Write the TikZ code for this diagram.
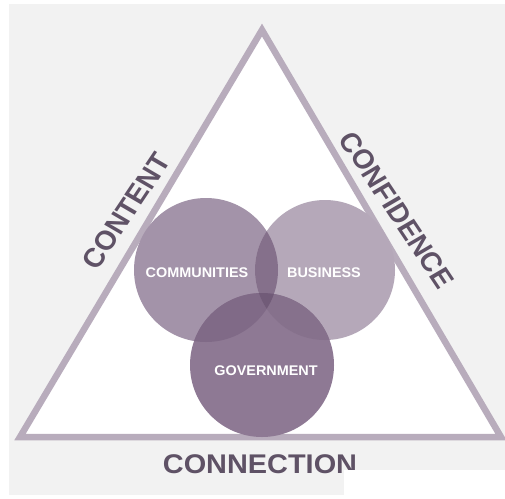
\documentclass[tikz,border=0pt]{standalone}
\usepackage{fontspec}
\setmainfont{Liberation Sans}
\begin{document}
\begin{tikzpicture}[x=1pt,y=-1pt,
  tri/.style={draw=triline,line width=6.5pt,fill=white,line join=miter},
  side/.style={font=\bfseries\fontsize{27}{27}\selectfont,text=labelc,inner sep=0pt,xscale=1.07},
  inlabel/.style={font=\bfseries\fontsize{14}{14}\selectfont,text=white,inner sep=0pt,xscale=1.03}]
\definecolor{bg}{HTML}{F2F2F2}
\definecolor{triline}{HTML}{B8ACBC}
\definecolor{labelc}{HTML}{5F5266}
\definecolor{comm}{HTML}{A393A9}
\definecolor{bus}{HTML}{B5A8B9}
\definecolor{gov}{HTML}{8E7994}
\definecolor{cb}{HTML}{85708B}
\definecolor{cg}{HTML}{806A87}
\definecolor{bg2}{HTML}{86718C}
\definecolor{all}{HTML}{715B78}
\useasboundingbox (0,0) rectangle (505,498);
\fill[white] (0,0) rectangle (505,498);
\fill[bg] (9,4) rectangle (505,495);
% triangle
\coordinate (A) at (262,30);
\coordinate (L) at (20,437);
\coordinate (R) at (501,437);
\draw[tri] (A) -- (R) -- (L) -- cycle;
% circles
\def\cC{(206,270) circle (72)}
\def\cB{(325,270) circle (70)}
\def\cG{(262,365) circle (72)}
\fill[comm] \cC;
\fill[bus] \cB;
\fill[gov] \cG;
\begin{scope}\clip \cC; \fill[cb] \cB; \end{scope}
\begin{scope}\clip \cC; \fill[cg] \cG; \end{scope}
\begin{scope}\clip \cB; \fill[bg2] \cG; \end{scope}
\begin{scope}\clip \cC; \clip \cB; \fill[all] \cG; \end{scope}
\node[inlabel] (communities) at (197,273) {COMMUNITIES};
\node[inlabel] (business) at (324,273) {BUSINESS};
\node[inlabel] (government) at (266,371) {GOVERNMENT};
% side labels
\node[side,rotate=58] (content) at (126,211) {CONTENT};
\node[side,rotate=-58] (confidence) at (397,210) {CONFIDENCE};
\node[side] (connection) at (260,464) {CONNECTION};
\fill[white] (344,470) rectangle (505,498);
\end{tikzpicture}
\end{document}
